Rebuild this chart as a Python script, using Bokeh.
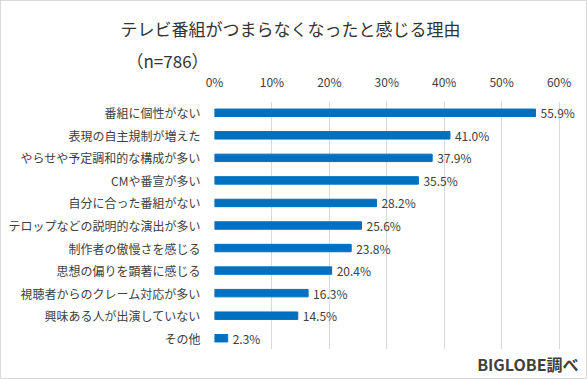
from bokeh.plotting import figure
from bokeh.models import ColumnDataSource, FactorRange, Range1d, LabelSet, Title, FixedTicker, CustomJSTickFormatter
from bokeh.core.properties import value
from bokeh.embed import file_html
from bokeh.resources import INLINE

categories = ["番組に個性がない", "表現の自主規制が増えた", "やらせや予定調和的な構成が多い", "CMや番宣が多い",
              "自分に合った番組がない", "テロップなどの説明的な演出が多い", "制作者の傲慢さを感じる",
              "思想の偏りを顕著に感じる", "視聴者からのクレーム対応が多い", "興味ある人が出演していない", "その他"]
values = [55.9, 41.0, 37.9, 35.5, 28.2, 25.6, 23.8, 20.4, 16.3, 14.5, 2.3]
ticks = [0, 10, 20, 30, 40, 50, 60]

FONT = "Noto Sans CJK JP"
TXT = "#404040"

src = ColumnDataSource(dict(cat=categories, val=values, lab=[f"{v:.1f}%" for v in values]))

p = figure(width=587, height=379, output_backend="svg", toolbar_location=None,
           y_range=FactorRange(*categories[::-1]), x_range=Range1d(0, 64.6),
           x_axis_location="above",
           min_border_left=213, min_border_right=3, min_border_top=100, min_border_bottom=31)
p.hbar(y="cat", right="val", left=0, height=0.33, source=src, color="#0070C0")

p.add_layout(LabelSet(x="val", y="cat", text="lab", source=src, x_offset=5,
                      text_baseline="middle", text_align="left", text_font_size=value("12px"),
                      text_font=value(FONT), text_color=value(TXT)))

p.xaxis.ticker = FixedTicker(ticks=ticks)
p.xaxis.formatter = CustomJSTickFormatter(code="return tick + '%';")
p.xgrid.ticker = FixedTicker(ticks=ticks)
for ax in (p.xaxis, p.yaxis):
    ax.axis_line_color = None
    ax.major_tick_line_color = None
    ax.minor_tick_line_color = None
    ax.major_tick_out = 0
    ax.major_tick_in = 0
    ax.major_label_text_font = FONT
    ax.major_label_text_font_size = "12px"
    ax.major_label_text_color = TXT
p.xaxis.major_label_standoff = 12
p.yaxis.major_label_standoff = 14

p.xgrid.grid_line_color = "#d9d9d9"
p.ygrid.grid_line_color = None
p.outline_line_color = None
p.background_fill_color = "white"
p.border_fill_color = "white"

t_n = Title(text="（n=786）", align="left", offset=-88, standoff=-7,
            text_font=FONT, text_font_size="17px", text_color="#333333", text_font_style="normal")
t_main = Title(text="テレビ番組がつまらなくなったと感じる理由", align="left", offset=-94, standoff=18,
               text_font=FONT, text_font_size="17px", text_color="#333333", text_font_style="normal")
p.add_layout(t_n, "above")
p.add_layout(t_main, "above")
t_src = Title(text="BIGLOBE調べ", align="right", offset=7, standoff=0,
              text_font=FONT, text_font_size="16px", text_color=TXT, text_font_style="bold")
p.add_layout(t_src, "below")
p.styles = {"border": "1px solid #d9d9d9", "box-sizing": "border-box"}

open("out.html", "w").write(file_html(p, INLINE))
